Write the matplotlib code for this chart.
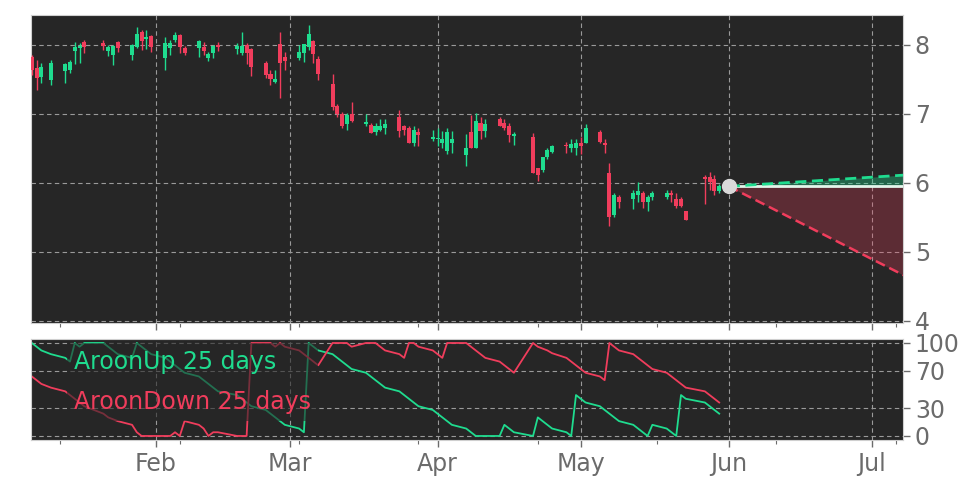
"""Candlestick chart with Aroon indicator and a price forecast cone."""

import matplotlib
matplotlib.use('Agg')
import matplotlib.pyplot as plt
import matplotlib.dates as mdates
import pandas as pd

# Trading days and daily prices
dates = [
    '2025-01-06', '2025-01-07', '2025-01-08', '2025-01-10', '2025-01-13', '2025-01-14',
    '2025-01-15', '2025-01-16', '2025-01-17', '2025-01-21', '2025-01-22', '2025-01-23',
    '2025-01-24', '2025-01-27', '2025-01-28', '2025-01-29', '2025-01-30', '2025-01-31',
    '2025-02-03', '2025-02-04', '2025-02-05', '2025-02-06', '2025-02-07', '2025-02-10',
    '2025-02-11', '2025-02-12', '2025-02-13', '2025-02-14', '2025-02-18', '2025-02-19',
    '2025-02-20', '2025-02-21', '2025-02-24', '2025-02-25', '2025-02-26', '2025-02-27',
    '2025-02-28', '2025-03-03', '2025-03-04', '2025-03-05', '2025-03-06', '2025-03-07',
    '2025-03-10', '2025-03-11', '2025-03-12', '2025-03-13', '2025-03-14', '2025-03-17',
    '2025-03-18', '2025-03-19', '2025-03-20', '2025-03-21', '2025-03-24', '2025-03-25',
    '2025-03-26', '2025-03-27', '2025-03-28', '2025-03-31', '2025-04-01', '2025-04-02',
    '2025-04-03', '2025-04-04', '2025-04-07', '2025-04-08', '2025-04-09', '2025-04-10',
    '2025-04-11', '2025-04-14', '2025-04-15', '2025-04-16', '2025-04-17', '2025-04-21',
    '2025-04-22', '2025-04-23', '2025-04-24', '2025-04-25', '2025-04-28', '2025-04-29',
    '2025-04-30', '2025-05-01', '2025-05-02', '2025-05-05', '2025-05-06', '2025-05-07',
    '2025-05-08', '2025-05-09', '2025-05-12', '2025-05-13', '2025-05-14', '2025-05-15',
    '2025-05-16', '2025-05-19', '2025-05-20', '2025-05-21', '2025-05-22', '2025-05-23',
    '2025-05-27', '2025-05-28', '2025-05-29', '2025-05-30',
]
opens = [
    7.83, 7.67, 7.54, 7.49, 7.62, 7.64, 7.91, 7.96, 8.04, 8.03, 7.91, 7.86,
    8.04, 7.86, 7.97, 8.19, 8.09, 8.13, 7.81, 7.96, 8.07, 8.14, 7.96, 7.96,
    7.97, 7.81, 7.88, 8.00, 7.94, 7.88, 8.00, 7.94, 7.74, 7.58, 7.47, 8.01,
    7.83, 7.81, 7.88, 7.97, 8.06, 7.80, 7.44, 7.12, 7.00, 6.86, 7.00, 6.86,
    6.84, 6.74, 6.77, 6.79, 6.95, 6.82, 6.80, 6.58, 6.74, 6.64, 6.63, 6.58,
    6.47, 6.58, 6.41, 6.74, 6.51, 6.87, 6.76, 6.93, 6.87, 6.82, 6.68, 6.67,
    6.21, 6.19, 6.37, 6.45, 6.54, 6.51, 6.50, 6.58, 6.58, 6.74, 6.58, 6.15,
    5.54, 5.80, 5.77, 5.82, 5.85, 5.72, 5.79, 5.80, 5.85, 5.77, 5.77, 5.59,
    6.09, 6.08, 6.06, 5.89,
]
highs = [
    7.86, 7.78, 7.74, 7.78, 7.74, 7.78, 8.04, 8.03, 8.07, 8.07, 8.00, 8.00,
    8.06, 8.01, 8.26, 8.22, 8.22, 8.14, 8.12, 8.07, 8.19, 8.16, 7.99, 8.07,
    8.04, 7.90, 8.00, 8.04, 8.03, 8.19, 8.03, 7.96, 7.77, 7.64, 7.64, 8.19,
    7.90, 8.00, 8.01, 8.29, 8.07, 7.84, 7.58, 7.15, 7.03, 7.02, 7.18, 7.00,
    6.87, 6.87, 6.92, 6.92, 7.06, 6.84, 6.83, 6.82, 6.80, 6.77, 6.80, 6.76,
    6.80, 6.76, 6.71, 6.99, 7.02, 6.95, 6.92, 6.95, 6.93, 6.87, 6.74, 6.73,
    6.22, 6.38, 6.51, 6.55, 6.60, 6.63, 6.63, 6.66, 6.86, 6.77, 6.63, 6.29,
    5.86, 5.83, 5.90, 6.01, 5.88, 5.83, 5.89, 5.90, 5.90, 5.85, 5.79, 5.59,
    6.12, 6.16, 6.12, 5.98,
]
lows = [
    7.57, 7.35, 7.45, 7.42, 7.45, 7.60, 7.73, 7.74, 7.88, 7.93, 7.84, 7.71,
    7.90, 7.78, 7.96, 7.93, 7.94, 7.90, 7.64, 7.86, 8.04, 7.88, 7.86, 7.83,
    7.86, 7.77, 7.81, 7.91, 7.87, 7.86, 7.73, 7.55, 7.52, 7.42, 7.45, 7.23,
    7.64, 7.78, 7.75, 7.93, 7.74, 7.49, 7.06, 6.96, 6.80, 6.77, 6.89, 6.82,
    6.72, 6.70, 6.76, 6.71, 6.67, 6.70, 6.58, 6.53, 6.54, 6.61, 6.53, 6.51,
    6.42, 6.44, 6.24, 6.50, 6.50, 6.63, 6.66, 6.82, 6.77, 6.60, 6.55, 6.15,
    6.03, 6.16, 6.34, 6.44, 6.44, 6.45, 6.41, 6.42, 6.58, 6.58, 6.44, 5.38,
    5.50, 5.64, 5.62, 5.72, 5.64, 5.59, 5.76, 5.77, 5.72, 5.64, 5.65, 5.47,
    5.69, 5.90, 5.83, 5.86,
]
closes = [
    7.64, 7.52, 7.68, 7.74, 7.73, 7.75, 7.97, 7.97, 7.97, 7.99, 7.97, 7.99,
    7.96, 8.00, 8.16, 8.06, 8.12, 7.97, 8.03, 8.03, 8.14, 7.97, 7.88, 8.06,
    7.91, 7.87, 7.99, 7.97, 7.99, 7.99, 7.88, 7.68, 7.57, 7.51, 7.51, 7.74,
    7.77, 7.90, 8.01, 8.16, 7.87, 7.58, 7.10, 7.00, 6.83, 6.99, 6.90, 6.89,
    6.73, 6.82, 6.82, 6.86, 6.76, 6.77, 6.58, 6.77, 6.70, 6.66, 6.64, 6.63,
    6.74, 6.64, 6.51, 6.51, 6.90, 6.76, 6.86, 6.83, 6.80, 6.70, 6.71, 6.15,
    6.12, 6.37, 6.48, 6.53, 6.53, 6.57, 6.58, 6.53, 6.80, 6.60, 6.55, 5.50,
    5.82, 5.72, 5.85, 5.88, 5.73, 5.79, 5.85, 5.85, 5.82, 5.66, 5.66, 5.47,
    6.05, 6.02, 5.89, 5.95,
]

# Aroon (25 days), one value per trading day
aroon_up = [
    100, 96, 92, 88, 84, 80, 100, 96, 100, 100, 96, 92, 88, 84, 100, 96, 92, 88,
    84, 80, 76, 72, 68, 64, 60, 56, 52, 48, 44, 40, 36, 32, 28, 24, 20, 16, 12,
    8, 4, 100, 96, 92, 88, 84, 80, 76, 72, 68, 64, 60, 56, 52, 48, 44, 40, 36, 32, 28,
    24, 20, 16, 12, 8, 4, 0, 0, 0, 0, 12, 8, 4, 0, 20, 16, 12, 8, 4, 0, 44,
    40, 36, 32, 28, 24, 20, 16, 12, 8, 4, 0, 12, 8, 4, 0, 44, 40, 36, 32, 28, 24,
]
aroon_down = [
    64, 60, 56, 52, 48, 44, 40, 36, 32, 24, 20, 18, 16, 12, 4, 0, 0, 0,
    0, 0, 4, 0, 16, 12, 8, 0, 4, 4, 0, 0, 0, 100, 100, 100, 96, 100, 96,
    92, 88, 84, 80, 76, 100, 100, 100, 100, 96, 100, 100, 100, 96, 92, 88, 84, 100, 100, 96, 92,
    88, 84, 100, 100, 100, 96, 92, 88, 84, 80, 76, 72, 68, 100, 96, 94, 92, 89, 84, 80, 76,
    72, 68, 64, 60, 100, 96, 92, 88, 84, 80, 76, 72, 68, 64, 60, 56, 52, 48, 44, 40, 36,
]

# Forecast cone from the last close
fc_dates = ['2025-06-01', '2025-07-08']
fc_mid = [5.95, 5.95]
fc_up = [5.95, 6.115]
fc_low = [5.95, 4.65]

# Colours
bg = '#262626'
green = '#1fdc8f'
red = '#f03d5c'
text_grey = '#6b6b6b'
grid_grey = '#9a9a9a'

x = mdates.date2num(pd.to_datetime(dates))
xf = mdates.date2num(pd.to_datetime(fc_dates))

fig = plt.figure(figsize=(9.72, 4.86), dpi=100)
ax = fig.add_axes([0.0319, 0.3354, 0.8971, 0.6337])
ax2 = fig.add_axes([0.0319, 0.0947, 0.8971, 0.2078], sharex=ax)

# Candles
for xi, o, h, l, c in zip(x, opens, highs, lows, closes):
    col = green if c >= o else red
    ax.vlines(xi, l, h, color=col, lw=1, zorder=3)
    body = max(abs(c - o), 0.025)
    ax.bar(xi, body, bottom=min(o, c), width=0.85, color=col, lw=0, zorder=4)

# Forecast
ax.fill_between(xf, fc_mid, fc_up, color=green, alpha=0.35, lw=0, zorder=2)
ax.fill_between(xf, fc_mid, fc_low, color=red, alpha=0.27, lw=0, zorder=2)
ax.plot(xf, fc_mid, color='#e3f7ec', lw=2, zorder=3)
ax.plot(xf, fc_up, color=green, lw=2, ls=(0, (4, 2)), zorder=3)
ax.plot(xf, fc_low, color=red, lw=1.8, ls=(0, (4, 2)), zorder=3)
ax.plot(xf[0], fc_mid[0], 'o', color='#d9d9d9', ms=10, zorder=5)

# Aroon
l_up, = ax2.plot(x, aroon_up, color=green, lw=1.3, label='AroonUp 25 days')
l_dn, = ax2.plot(x, aroon_down, color=red, lw=1.3, label='AroonDown 25 days')
leg = ax2.legend(handles=[l_up, l_dn], loc='upper left', bbox_to_anchor=(0.0275, 1.08),
                 fontsize=17, handlelength=0, handletextpad=0, labelcolor='linecolor',
                 facecolor=bg, edgecolor='none', framealpha=0.6, borderpad=0.3,
                 labelspacing=0.67)
for h in leg.legend_handles:
    h.set_visible(False)

# Axes styling
ax.set_ylim(3.97, 8.434)
ax2.set_ylim(-4.3, 104.3)
ax.set_xlim(mdates.date2num(pd.Timestamp('2025-01-05 20:00')),
            mdates.date2num(pd.Timestamp('2025-07-07 12:00')))
ax.set_yticks([4, 5, 6, 7, 8])
ax2.set_yticks([0, 30, 70, 100])

minor = mdates.date2num(pd.date_range('2025-01-12', periods=8, freq='25D'))
for a in (ax, ax2):
    a.set_facecolor(bg)
    for s in a.spines.values():
        s.set_color('#cfcfcf')
    a.yaxis.tick_right()
    a.xaxis.set_major_locator(mdates.MonthLocator())
    a.xaxis.set_major_formatter(mdates.DateFormatter('%b'))
    a.xaxis.set_minor_locator(plt.FixedLocator(minor))
    a.tick_params(axis='both', which='major', colors=text_grey, labelsize=17,
                  length=5, width=1)
    a.tick_params(axis='x', which='minor', colors=text_grey, length=3, width=0.8)
    a.grid(True, which='major', color=grid_grey, ls=(0, (4, 3)), lw=0.8)
    a.set_axisbelow(True)
ax.tick_params(axis='x', labelbottom=False)

fig.savefig('out.png', dpi=100, facecolor='white')
